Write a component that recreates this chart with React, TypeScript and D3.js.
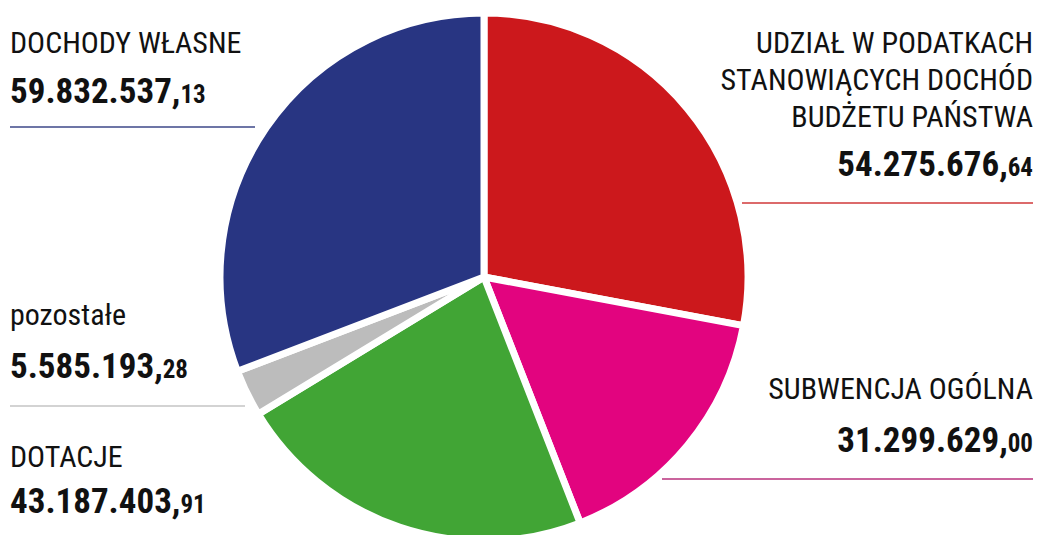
import React from 'react';
import * as d3 from 'd3';

// order = clockwise from 12 o'clock
const categories = [
  'UDZIAŁ W PODATKACH STANOWIĄCYCH DOCHÓD BUDŻETU PAŃSTWA',
  'SUBWENCJA OGÓLNA',
  'DOTACJE',
  'pozostałe',
  'DOCHODY WŁASNE',
];
const categoryLines = [
  ['UDZIAŁ W PODATKACH', 'STANOWIĄCYCH DOCHÓD', 'BUDŻETU PAŃSTWA'],
  ['SUBWENCJA OGÓLNA'],
  ['DOTACJE'],
  ['pozostałe'],
  ['DOCHODY WŁASNE'],
];
const values = [54275676.64, 31299629.0, 43187403.91, 5585193.28, 59832537.13];
const sliceColors = ['#cc181c', '#e2047f', '#41a535', '#bcbcbc', '#283582'];
const ruleColors = ['#d0393a', '#b8307d', '#41a535', '#c4c4c4', '#3c4789'];

// label layout: anchor x, baseline of first line, line step, number baseline, rule y, rule x range
const layout = [
  { side: 'right', x: 1033, y0: 53, step: 37, numY: 176, ruleY: 203, rule: [742, 1033] },
  { side: 'right', x: 1033, y0: 399, step: 37, numY: 452, ruleY: 479, rule: [662, 1033] },
  { side: 'left', x: 10, y0: 467, step: 37, numY: 513, ruleY: null, rule: [0, 0] },
  { side: 'left', x: 10, y0: 325, step: 37, numY: 378, ruleY: 406, rule: [10, 245] },
  { side: 'left', x: 10, y0: 53, step: 37, numY: 103, ruleY: 127, rule: [10, 255] },
];

const W = 1039;
const H = 535;
const cx = 484;
const cy = 277;
const radius = 264;
const font = "'Roboto Condensed', Roboto, 'Noto Sans', sans-serif";

const pl = d3.formatLocale({ decimal: ',', thousands: '.', grouping: [3], currency: ['', ''] });
const fmt = pl.format(',.2f');

export default function App() {
  const pie = d3.pie<number>().sort(null).value(d => d);
  const arcs = pie(values);
  const arc = d3.arc<d3.PieArcDatum<number>>().innerRadius(0).outerRadius(radius);

  return (
    <svg width={W} height={H} style={{ position: 'absolute', left: 0, top: 0, background: '#fff' }}>
      <g transform={`translate(${cx},${cy})`}>
        {arcs.map((a, i) => (
          <path key={categories[i]} d={arc(a) || ''} fill={sliceColors[i]} stroke="#fff" strokeWidth={7} strokeLinejoin="miter" />
        ))}
      </g>
      {layout.map((l, i) => {
        const [whole, dec] = fmt(values[i]).split(',');
        const anchor = l.side === 'right' ? 'end' : 'start';
        return (
          <g key={categories[i]}>
            {categoryLines[i].map((line, j) => (
              <text
                key={line}
                x={l.x}
                y={l.y0 + j * l.step}
                textAnchor={anchor}
                fontFamily={font}
                fontSize={30}
                fill="#111"
              >
                {line}
              </text>
            ))}
            <text x={l.x} y={l.numY} textAnchor={anchor} fontFamily={font} fontWeight={700} fill="#111">
              <tspan fontSize={35}>{whole},</tspan>
              <tspan fontSize={25}>{dec}</tspan>
            </text>
            {l.ruleY !== null && (
              <line x1={l.rule[0]} x2={l.rule[1]} y1={l.ruleY} y2={l.ruleY} stroke={ruleColors[i]} strokeWidth={1.6} />
            )}
          </g>
        );
      })}
    </svg>
  );
}
